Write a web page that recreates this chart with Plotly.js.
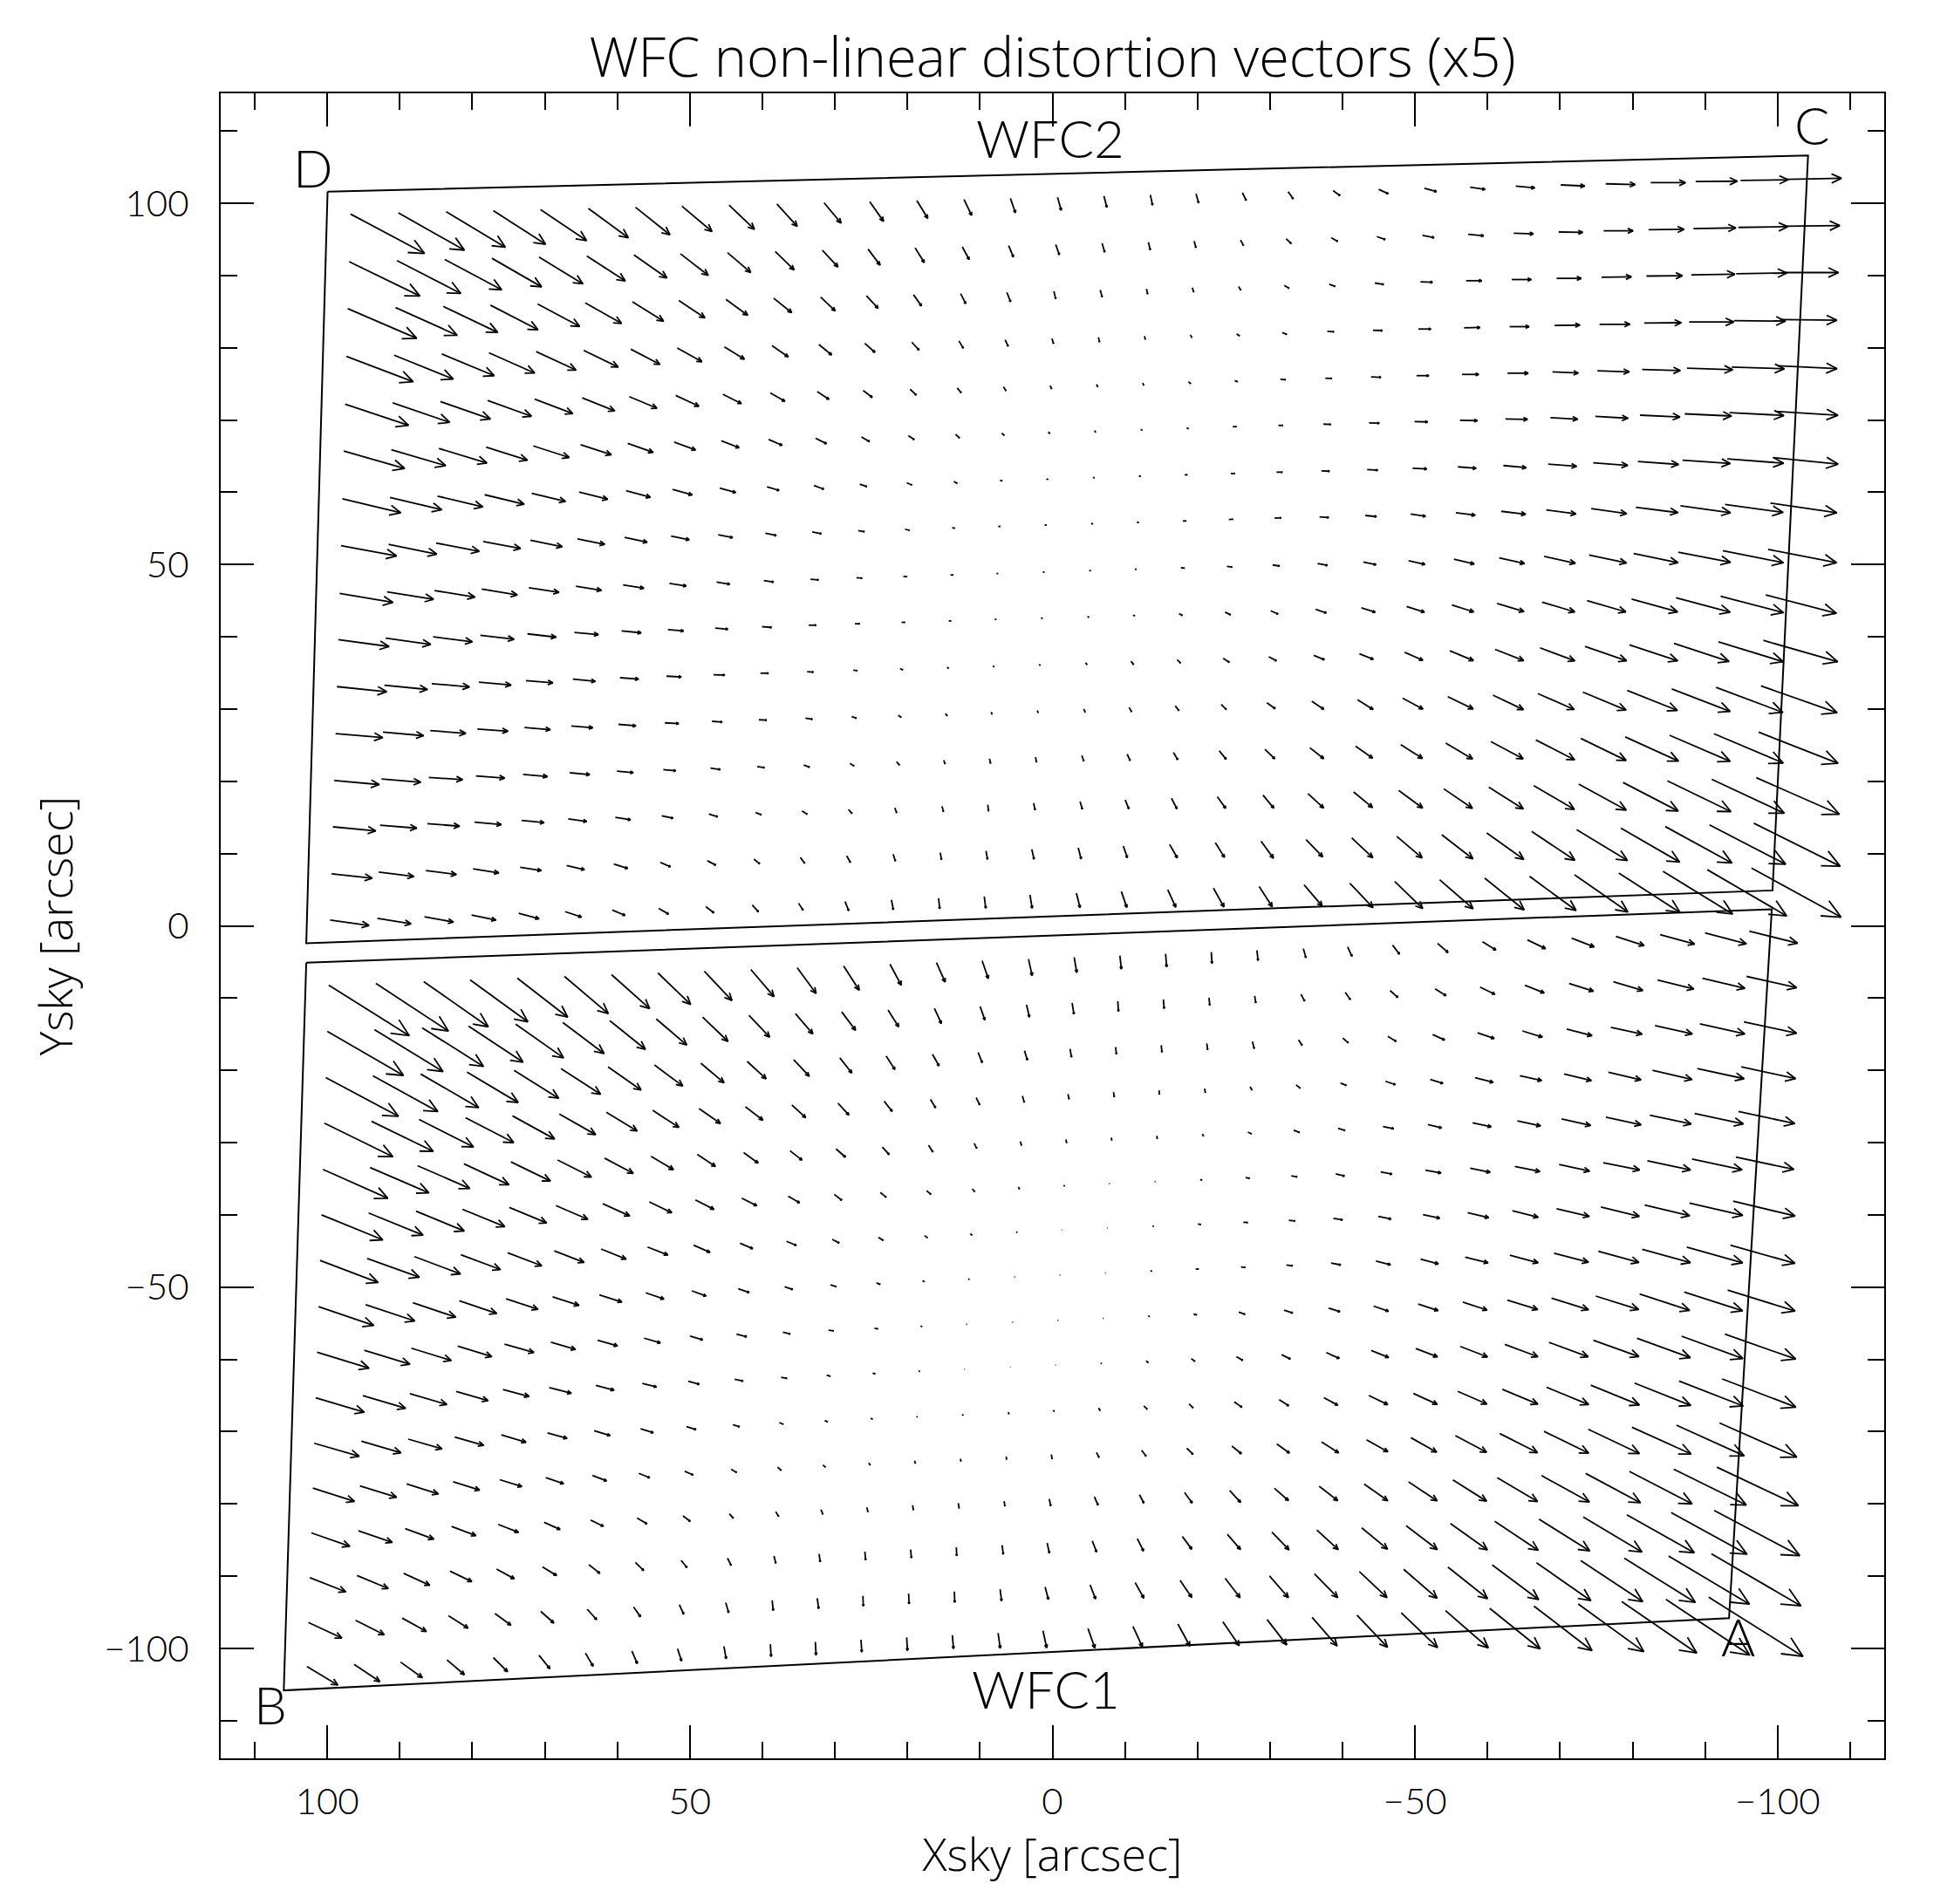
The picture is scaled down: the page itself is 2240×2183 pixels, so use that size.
<!DOCTYPE html>
<html><head><meta charset="utf-8">
<script src="https://cdn.plot.ly/plotly-3.0.1.min.js"></script>
<style>body{margin:0;background:#fff}</style>
</head><body><div id="plot"></div>
<script>
// ---------------- DATA ----------------
const TITLE = 'WFC non-linear distortion vectors (x5)';
const X_TITLE = 'Xsky [arcsec]';
const Y_TITLE = 'Ysky [arcsec]';
const SCALE = 5;            // vectors magnified x5
const X_TICKS = [100, 50, 0, -50, -100];
const Y_TICKS = [100, 50, 0, -50, -100];

// chip outlines (Xsky, Ysky)
const WFC2_OUTLINE_X = [99.96, -104.2, -99.3, 102.9, 99.96];
const WFC2_OUTLINE_Y = [101.6, 106.6, 4.9, -2.4, 101.6];
const WFC1_OUTLINE_X = [102.9, -99.2, -93.3, 106.0, 102.9];
const WFC1_OUTLINE_Y = [-5.1, 2.3, -95.8, -105.8, -5.1];

// labels
const LABEL_TEXT = ['D', 'C', 'A', 'B', 'WFC2', 'WFC1'];
const LABEL_X = [102.0, -104.8, -94.6, 107.9, 0.3, 0.9];
const LABEL_Y = [105.0, 110.9, -98.3, -107.7, 109.1, -105.5];

// grid of vector tails: 16 rows x 32 columns per chip (edges of the grid)
const WFC2_TOP_X = [96.8,90.2,83.6,77.1,70.6,64.0,57.5,51.1,44.6,38.0,31.5,25.2,18.7,12.2,5.8,-0.7,-7.1,-13.5,-19.8,-26.2,-32.5,-38.7,-45.0,-51.3,-57.6,-63.9,-70.1,-76.3,-82.5,-88.7,-94.9,-101.3];
const WFC2_BOT_X = [99.6,93.1,86.6,80.1,73.6,67.2,60.7,54.3,47.8,41.4,35.0,28.6,22.2,15.7,9.4,3.1,-3.3,-9.5,-15.9,-22.2,-28.5,-34.7,-41.0,-47.2,-53.4,-59.6,-65.8,-72.0,-78.1,-84.2,-90.3,-96.4];
const WFC2_LEFT_Y = [98.5,91.9,85.4,78.8,72.2,65.7,59.1,52.6,46.0,39.6,33.1,26.6,20.1,13.7,7.2,0.8];
const WFC2_RIGHT_Y = [103.3,96.8,90.4,83.9,77.5,71.2,64.8,58.5,52.1,45.8,39.5,33.2,26.8,20.5,14.2,8.0];

const WFC1_TOP_X = [99.8,93.3,86.7,80.3,73.8,67.3,60.8,54.4,48.0,41.6,35.2,28.8,22.4,16.0,9.7,3.3,-3.0,-9.3,-15.6,-21.9,-28.2,-34.6,-40.7,-46.9,-53.1,-59.3,-65.5,-71.6,-77.7,-83.8,-90.0,-96.1];
const WFC1_BOT_X = [102.8,96.3,89.9,83.5,77.1,70.8,64.4,58.0,51.7,45.3,38.9,32.7,26.4,20.1,13.8,7.5,1.3,-4.9,-11.1,-17.3,-23.5,-29.6,-35.8,-42.0,-48.1,-54.2,-60.3,-66.4,-72.5,-78.5,-84.6,-90.5];
const WFC1_LEFT_Y = [-8.2,-14.6,-21.0,-27.3,-33.7,-40.0,-46.3,-52.7,-59.0,-65.3,-71.6,-77.8,-84.0,-90.2,-96.4,-102.5];
const WFC1_RIGHT_Y = [-0.75,-7.0,-13.3,-19.5,-25.7,-32.0,-38.1,-44.2,-50.4,-56.5,-62.7,-68.8,-74.9,-80.9,-86.9,-92.9];

// non-linear distortion (arcsec), dX and dY, row by row (top row first)
const WFC2_DX = [
[-2.04,-1.82,-1.63,-1.44,-1.27,-1.10,-0.95,-0.83,-0.70,-0.56,-0.47,-0.38,-0.30,-0.21,-0.14,-0.10,-0.08,-0.06,-0.07,-0.10,-0.14,-0.19,-0.26,-0.33,-0.41,-0.52,-0.66,-0.81,-0.96,-1.15,-1.31,-1.50],
[-1.95,-1.76,-1.57,-1.37,-1.21,-1.06,-0.91,-0.77,-0.64,-0.52,-0.43,-0.33,-0.25,-0.19,-0.13,-0.10,-0.07,-0.05,-0.05,-0.08,-0.14,-0.18,-0.23,-0.32,-0.43,-0.54,-0.66,-0.81,-0.98,-1.17,-1.36,-1.52],
[-1.90,-1.70,-1.50,-1.31,-1.16,-1.00,-0.86,-0.72,-0.60,-0.50,-0.40,-0.32,-0.22,-0.14,-0.10,-0.05,-0.05,-0.03,-0.04,-0.06,-0.13,-0.16,-0.24,-0.33,-0.43,-0.54,-0.68,-0.82,-0.99,-1.20,-1.40,-1.55],
[-1.84,-1.63,-1.44,-1.26,-1.10,-0.95,-0.80,-0.68,-0.55,-0.45,-0.35,-0.28,-0.20,-0.12,-0.08,-0.04,-0.03,-0.02,-0.04,-0.08,-0.12,-0.18,-0.26,-0.34,-0.44,-0.54,-0.70,-0.84,-1.02,-1.23,-1.42,-1.57],
[-1.75,-1.57,-1.38,-1.21,-1.05,-0.90,-0.76,-0.64,-0.51,-0.40,-0.32,-0.25,-0.17,-0.11,-0.07,-0.04,-0.03,-0.03,-0.06,-0.08,-0.14,-0.18,-0.27,-0.34,-0.46,-0.57,-0.71,-0.88,-1.05,-1.26,-1.45,-1.64],
[-1.68,-1.50,-1.32,-1.14,-0.99,-0.85,-0.70,-0.59,-0.49,-0.37,-0.30,-0.22,-0.16,-0.11,-0.07,-0.04,-0.02,-0.04,-0.05,-0.10,-0.12,-0.20,-0.28,-0.36,-0.48,-0.61,-0.75,-0.90,-1.10,-1.29,-1.50,-1.73],
[-1.61,-1.43,-1.25,-1.09,-0.93,-0.79,-0.67,-0.54,-0.44,-0.33,-0.27,-0.19,-0.14,-0.09,-0.06,-0.04,-0.04,-0.05,-0.07,-0.11,-0.16,-0.22,-0.29,-0.39,-0.50,-0.63,-0.78,-0.95,-1.12,-1.31,-1.55,-1.80],
[-1.53,-1.33,-1.19,-1.03,-0.88,-0.75,-0.62,-0.50,-0.40,-0.30,-0.25,-0.17,-0.12,-0.07,-0.05,-0.05,-0.05,-0.05,-0.09,-0.11,-0.18,-0.25,-0.31,-0.41,-0.53,-0.67,-0.82,-0.98,-1.16,-1.38,-1.60,-1.83],
[-1.47,-1.28,-1.11,-0.98,-0.83,-0.70,-0.57,-0.46,-0.36,-0.27,-0.22,-0.15,-0.10,-0.07,-0.04,-0.04,-0.04,-0.04,-0.10,-0.14,-0.19,-0.27,-0.35,-0.45,-0.56,-0.70,-0.86,-1.03,-1.22,-1.44,-1.67,-1.89],
[-1.40,-1.24,-1.08,-0.93,-0.79,-0.66,-0.54,-0.43,-0.35,-0.26,-0.20,-0.13,-0.09,-0.06,-0.04,-0.04,-0.04,-0.05,-0.09,-0.15,-0.20,-0.29,-0.38,-0.49,-0.60,-0.74,-0.90,-1.07,-1.27,-1.49,-1.73,-1.95],
[-1.37,-1.19,-1.04,-0.89,-0.74,-0.62,-0.51,-0.41,-0.31,-0.22,-0.17,-0.11,-0.08,-0.04,-0.03,-0.03,-0.04,-0.07,-0.09,-0.17,-0.21,-0.29,-0.38,-0.50,-0.65,-0.79,-0.96,-1.15,-1.33,-1.52,-1.79,-2.05],
[-1.30,-1.12,-0.98,-0.84,-0.71,-0.59,-0.48,-0.38,-0.28,-0.21,-0.19,-0.13,-0.08,-0.05,-0.02,-0.02,-0.04,-0.07,-0.10,-0.14,-0.23,-0.33,-0.43,-0.56,-0.70,-0.84,-1.00,-1.19,-1.38,-1.61,-1.84,-2.10],
[-1.24,-1.08,-0.93,-0.79,-0.67,-0.55,-0.45,-0.34,-0.27,-0.20,-0.16,-0.11,-0.08,-0.04,-0.03,-0.03,-0.05,-0.08,-0.12,-0.19,-0.27,-0.38,-0.47,-0.60,-0.74,-0.89,-1.07,-1.25,-1.47,-1.67,-1.91,-2.19],
[-1.18,-1.01,-0.89,-0.74,-0.62,-0.51,-0.42,-0.31,-0.24,-0.16,-0.14,-0.10,-0.05,-0.04,-0.02,-0.04,-0.06,-0.10,-0.15,-0.23,-0.30,-0.43,-0.52,-0.66,-0.79,-0.95,-1.12,-1.31,-1.52,-1.75,-2.00,-2.29],
[-1.12,-0.97,-0.84,-0.71,-0.58,-0.49,-0.38,-0.28,-0.23,-0.16,-0.12,-0.10,-0.06,-0.03,-0.04,-0.06,-0.08,-0.11,-0.21,-0.25,-0.34,-0.46,-0.58,-0.70,-0.86,-1.02,-1.19,-1.40,-1.62,-1.84,-2.10,-2.38],
[-1.07,-0.93,-0.80,-0.67,-0.56,-0.45,-0.35,-0.27,-0.22,-0.17,-0.12,-0.10,-0.05,-0.03,-0.04,-0.06,-0.10,-0.15,-0.22,-0.29,-0.36,-0.50,-0.64,-0.77,-0.92,-1.09,-1.28,-1.47,-1.69,-1.92,-2.19,-2.47]
];
const WFC2_DY = [
[-1.09,-1.03,-0.98,-0.93,-0.86,-0.81,-0.76,-0.70,-0.67,-0.62,-0.56,-0.54,-0.49,-0.44,-0.40,-0.36,-0.31,-0.28,-0.25,-0.21,-0.20,-0.14,-0.12,-0.09,-0.06,-0.05,-0.03,-0.02,0,0.01,0.02,0.03],
[-0.95,-0.91,-0.84,-0.79,-0.74,-0.69,-0.64,-0.60,-0.55,-0.51,-0.46,-0.44,-0.40,-0.35,-0.31,-0.28,-0.24,-0.21,-0.18,-0.15,-0.13,-0.10,-0.08,-0.06,-0.04,-0.02,-0.01,0,0.01,0.02,0.02,0.02],
[-0.82,-0.77,-0.72,-0.68,-0.62,-0.57,-0.54,-0.48,-0.44,-0.40,-0.38,-0.34,-0.31,-0.28,-0.26,-0.21,-0.19,-0.14,-0.12,-0.10,-0.08,-0.06,-0.04,-0.01,0,0,0,0.01,0.01,0.02,0.02,0],
[-0.70,-0.66,-0.60,-0.56,-0.51,-0.46,-0.42,-0.38,-0.34,-0.31,-0.29,-0.25,-0.22,-0.20,-0.18,-0.14,-0.13,-0.09,-0.07,-0.06,-0.05,-0.01,-0.01,0,0.01,0,0.01,0,0.01,0,-0.01,-0.02],
[-0.59,-0.54,-0.48,-0.44,-0.40,-0.36,-0.32,-0.30,-0.26,-0.23,-0.21,-0.19,-0.16,-0.13,-0.11,-0.09,-0.07,-0.06,-0.05,-0.03,-0.01,-0.01,-0.01,0,0,0,-0.03,-0.03,-0.03,-0.04,-0.05,-0.08],
[-0.48,-0.44,-0.40,-0.36,-0.32,-0.28,-0.25,-0.22,-0.19,-0.16,-0.15,-0.13,-0.11,-0.10,-0.06,-0.05,-0.05,-0.03,-0.02,0,0,-0.01,-0.01,-0.01,-0.01,-0.01,-0.04,-0.05,-0.05,-0.06,-0.08,-0.11],
[-0.39,-0.34,-0.30,-0.26,-0.22,-0.20,-0.18,-0.15,-0.12,-0.10,-0.10,-0.07,-0.06,-0.05,-0.02,-0.02,-0.01,0,0,0,0,-0.01,-0.02,-0.02,-0.04,-0.06,-0.06,-0.07,-0.08,-0.09,-0.12,-0.18],
[-0.28,-0.27,-0.23,-0.19,-0.18,-0.15,-0.13,-0.10,-0.08,-0.06,-0.05,-0.03,-0.03,-0.01,0,0,0,0,0,0.01,0.01,-0.02,-0.03,-0.06,-0.07,-0.08,-0.11,-0.14,-0.15,-0.19,-0.22,-0.27],
[-0.25,-0.20,-0.18,-0.16,-0.13,-0.11,-0.09,-0.07,-0.06,-0.04,-0.02,-0.01,-0.01,0,0,0,0,0,-0.01,-0.02,-0.03,-0.05,-0.07,-0.10,-0.13,-0.16,-0.19,-0.22,-0.25,-0.28,-0.33,-0.37],
[-0.19,-0.17,-0.14,-0.11,-0.09,-0.06,-0.05,-0.04,-0.03,-0.02,0,0,0,0,0,-0.01,-0.02,-0.02,-0.05,-0.07,-0.09,-0.10,-0.12,-0.16,-0.19,-0.22,-0.27,-0.31,-0.35,-0.40,-0.45,-0.51],
[-0.14,-0.12,-0.09,-0.08,-0.06,-0.06,-0.04,-0.02,-0.01,0,-0.01,-0.01,-0.03,-0.03,-0.03,-0.03,-0.05,-0.09,-0.09,-0.11,-0.11,-0.12,-0.15,-0.22,-0.27,-0.31,-0.36,-0.40,-0.44,-0.50,-0.55,-0.59],
[-0.11,-0.10,-0.08,-0.06,-0.06,-0.05,-0.04,-0.02,-0.02,-0.01,-0.03,-0.04,-0.06,-0.06,-0.06,-0.06,-0.09,-0.12,-0.13,-0.14,-0.16,-0.22,-0.27,-0.30,-0.34,-0.40,-0.44,-0.50,-0.55,-0.62,-0.69,-0.74],
[-0.11,-0.09,-0.06,-0.06,-0.06,-0.05,-0.04,-0.03,-0.04,-0.03,-0.06,-0.07,-0.09,-0.10,-0.13,-0.14,-0.15,-0.18,-0.20,-0.23,-0.26,-0.30,-0.33,-0.38,-0.44,-0.48,-0.55,-0.61,-0.67,-0.72,-0.81,-0.86],
[-0.11,-0.08,-0.07,-0.07,-0.06,-0.07,-0.07,-0.07,-0.07,-0.06,-0.09,-0.11,-0.14,-0.15,-0.18,-0.19,-0.21,-0.25,-0.29,-0.32,-0.36,-0.40,-0.43,-0.49,-0.54,-0.60,-0.66,-0.72,-0.79,-0.85,-0.94,-1.01],
[-0.12,-0.12,-0.11,-0.11,-0.09,-0.11,-0.12,-0.12,-0.12,-0.13,-0.16,-0.18,-0.19,-0.19,-0.23,-0.27,-0.31,-0.32,-0.37,-0.40,-0.47,-0.48,-0.55,-0.60,-0.67,-0.73,-0.80,-0.85,-0.94,-1.01,-1.09,-1.19],
[-0.15,-0.15,-0.15,-0.14,-0.15,-0.15,-0.15,-0.16,-0.17,-0.19,-0.19,-0.25,-0.27,-0.29,-0.32,-0.37,-0.40,-0.44,-0.48,-0.52,-0.56,-0.59,-0.68,-0.75,-0.80,-0.88,-0.94,-1.03,-1.09,-1.18,-1.28,-1.36]
];
const WFC1_DX = [
[-2.22,-2.00,-1.78,-1.59,-1.39,-1.21,-1.05,-0.90,-0.76,-0.64,-0.52,-0.43,-0.31,-0.24,-0.17,-0.10,-0.07,-0.04,-0.03,-0.02,-0.03,-0.07,-0.12,-0.19,-0.29,-0.37,-0.50,-0.62,-0.78,-0.95,-1.14,-1.33],
[-2.10,-1.89,-1.69,-1.50,-1.32,-1.14,-0.98,-0.84,-0.70,-0.57,-0.48,-0.38,-0.29,-0.19,-0.13,-0.08,-0.05,-0.02,-0.02,-0.02,-0.03,-0.10,-0.14,-0.21,-0.30,-0.41,-0.53,-0.67,-0.81,-1.00,-1.17,-1.38],
[-2.00,-1.79,-1.60,-1.41,-1.23,-1.09,-0.91,-0.78,-0.64,-0.52,-0.43,-0.33,-0.24,-0.18,-0.11,-0.08,-0.04,-0.02,-0.02,-0.02,-0.05,-0.10,-0.15,-0.23,-0.33,-0.46,-0.55,-0.70,-0.86,-1.03,-1.24,-1.45],
[-1.89,-1.70,-1.50,-1.33,-1.16,-1.00,-0.85,-0.72,-0.59,-0.48,-0.38,-0.30,-0.22,-0.14,-0.10,-0.05,-0.03,-0.02,-0.01,-0.02,-0.05,-0.11,-0.16,-0.27,-0.35,-0.50,-0.60,-0.75,-0.90,-1.09,-1.29,-1.50],
[-1.79,-1.62,-1.44,-1.24,-1.09,-0.93,-0.79,-0.62,-0.50,-0.40,-0.33,-0.26,-0.19,-0.12,-0.07,-0.03,-0.02,-0.01,-0.01,-0.03,-0.10,-0.16,-0.19,-0.29,-0.38,-0.51,-0.64,-0.80,-0.97,-1.14,-1.34,-1.55],
[-1.69,-1.50,-1.33,-1.17,-1.03,-0.88,-0.74,-0.62,-0.51,-0.41,-0.31,-0.21,-0.16,-0.12,-0.07,-0.03,-0.02,-0.01,-0.02,-0.05,-0.11,-0.16,-0.24,-0.31,-0.43,-0.55,-0.69,-0.84,-1.00,-1.19,-1.38,-1.60],
[-1.60,-1.44,-1.27,-1.09,-0.94,-0.82,-0.69,-0.56,-0.45,-0.35,-0.27,-0.19,-0.13,-0.08,-0.05,-0.02,-0.01,-0.01,-0.03,-0.08,-0.12,-0.17,-0.25,-0.35,-0.46,-0.58,-0.71,-0.90,-1.06,-1.24,-1.47,-1.71],
[-1.52,-1.35,-1.18,-1.03,-0.88,-0.73,-0.62,-0.50,-0.39,-0.30,-0.22,-0.16,-0.10,-0.05,-0.03,-0.02,-0.02,-0.02,-0.04,-0.08,-0.12,-0.17,-0.27,-0.40,-0.49,-0.63,-0.78,-0.95,-1.12,-1.33,-1.54,-1.78],
[-1.43,-1.26,-1.10,-0.94,-0.81,-0.68,-0.55,-0.45,-0.35,-0.28,-0.20,-0.14,-0.09,-0.04,-0.02,-0.02,-0.02,-0.02,-0.04,-0.09,-0.17,-0.24,-0.31,-0.41,-0.55,-0.67,-0.84,-1.02,-1.18,-1.38,-1.61,-1.86],
[-1.34,-1.18,-1.02,-0.88,-0.72,-0.61,-0.50,-0.39,-0.30,-0.23,-0.16,-0.10,-0.07,-0.03,-0.01,-0.01,-0.01,-0.02,-0.06,-0.10,-0.17,-0.24,-0.36,-0.48,-0.60,-0.75,-0.91,-1.08,-1.26,-1.47,-1.69,-1.95],
[-1.24,-1.09,-0.93,-0.80,-0.68,-0.54,-0.44,-0.35,-0.26,-0.18,-0.11,-0.08,-0.05,-0.02,-0.02,-0.02,-0.02,-0.04,-0.09,-0.11,-0.21,-0.26,-0.38,-0.52,-0.66,-0.80,-0.98,-1.16,-1.34,-1.55,-1.77,-2.03],
[-1.15,-1.01,-0.87,-0.73,-0.61,-0.49,-0.39,-0.30,-0.23,-0.15,-0.10,-0.07,-0.04,-0.02,-0.02,-0.01,-0.02,-0.07,-0.12,-0.17,-0.26,-0.35,-0.47,-0.59,-0.71,-0.86,-1.04,-1.23,-1.41,-1.63,-1.87,-2.13],
[-1.06,-0.93,-0.79,-0.67,-0.56,-0.44,-0.35,-0.27,-0.20,-0.11,-0.08,-0.05,-0.03,-0.02,-0.02,-0.02,-0.04,-0.10,-0.12,-0.21,-0.30,-0.39,-0.51,-0.65,-0.79,-0.93,-1.11,-1.32,-1.51,-1.73,-2.00,-2.25],
[-0.99,-0.86,-0.72,-0.60,-0.49,-0.39,-0.30,-0.23,-0.16,-0.10,-0.05,-0.03,-0.02,-0.02,-0.01,-0.03,-0.06,-0.12,-0.17,-0.26,-0.36,-0.47,-0.59,-0.71,-0.86,-1.02,-1.20,-1.40,-1.62,-1.86,-2.09,-2.36],
[-0.92,-0.79,-0.67,-0.54,-0.44,-0.36,-0.26,-0.19,-0.12,-0.08,-0.03,-0.04,-0.01,-0.01,-0.01,-0.04,-0.09,-0.15,-0.24,-0.32,-0.41,-0.52,-0.64,-0.76,-0.92,-1.09,-1.28,-1.50,-1.71,-1.96,-2.23,-2.47],
[-0.85,-0.71,-0.60,-0.48,-0.39,-0.30,-0.21,-0.15,-0.11,-0.06,-0.02,-0.02,-0.02,-0.02,-0.03,-0.06,-0.10,-0.19,-0.26,-0.33,-0.45,-0.54,-0.69,-0.84,-1.00,-1.18,-1.39,-1.60,-1.81,-2.07,-2.31,-2.60]
];
const WFC1_DY = [
[-1.40,-1.32,-1.25,-1.16,-1.08,-1.03,-0.94,-0.87,-0.81,-0.75,-0.71,-0.67,-0.58,-0.54,-0.49,-0.46,-0.42,-0.37,-0.36,-0.31,-0.28,-0.25,-0.26,-0.25,-0.25,-0.23,-0.24,-0.24,-0.25,-0.26,-0.30,-0.33],
[-1.22,-1.16,-1.07,-1.00,-0.93,-0.86,-0.79,-0.72,-0.67,-0.60,-0.56,-0.51,-0.46,-0.42,-0.37,-0.34,-0.31,-0.28,-0.25,-0.21,-0.19,-0.19,-0.20,-0.19,-0.19,-0.20,-0.21,-0.21,-0.24,-0.25,-0.28,-0.31],
[-1.07,-0.99,-0.93,-0.84,-0.77,-0.71,-0.64,-0.58,-0.54,-0.48,-0.46,-0.42,-0.37,-0.32,-0.28,-0.26,-0.23,-0.19,-0.19,-0.17,-0.19,-0.15,-0.13,-0.14,-0.15,-0.16,-0.17,-0.18,-0.19,-0.23,-0.28,-0.31],
[-0.93,-0.83,-0.76,-0.69,-0.64,-0.57,-0.52,-0.47,-0.41,-0.37,-0.35,-0.33,-0.28,-0.23,-0.20,-0.18,-0.14,-0.13,-0.11,-0.11,-0.09,-0.09,-0.06,-0.09,-0.11,-0.13,-0.13,-0.18,-0.21,-0.25,-0.28,-0.33],
[-0.80,-0.70,-0.63,-0.58,-0.53,-0.47,-0.42,-0.37,-0.33,-0.29,-0.26,-0.23,-0.21,-0.19,-0.14,-0.11,-0.09,-0.07,-0.08,-0.06,-0.05,-0.06,-0.06,-0.06,-0.09,-0.11,-0.14,-0.18,-0.21,-0.24,-0.29,-0.33],
[-0.69,-0.61,-0.55,-0.48,-0.43,-0.38,-0.34,-0.30,-0.26,-0.21,-0.18,-0.16,-0.13,-0.10,-0.08,-0.06,-0.03,-0.02,-0.01,-0.02,-0.02,-0.03,-0.06,-0.06,-0.08,-0.11,-0.14,-0.18,-0.20,-0.25,-0.30,-0.34],
[-0.61,-0.52,-0.48,-0.41,-0.36,-0.32,-0.28,-0.22,-0.20,-0.15,-0.11,-0.10,-0.08,-0.06,-0.04,-0.02,-0.01,-0.01,-0.01,-0.01,-0.01,-0.02,-0.04,-0.07,-0.10,-0.14,-0.18,-0.21,-0.26,-0.30,-0.34,-0.41],
[-0.52,-0.45,-0.40,-0.35,-0.29,-0.24,-0.20,-0.17,-0.14,-0.10,-0.07,-0.05,-0.04,-0.02,-0.01,-0.01,0,0,0,0,-0.01,-0.02,-0.05,-0.10,-0.13,-0.16,-0.21,-0.25,-0.31,-0.37,-0.43,-0.50],
[-0.44,-0.39,-0.34,-0.29,-0.23,-0.20,-0.16,-0.13,-0.10,-0.07,-0.05,-0.02,-0.02,-0.01,-0.01,-0.01,-0.01,-0.01,-0.01,-0.02,-0.06,-0.08,-0.10,-0.14,-0.18,-0.22,-0.26,-0.32,-0.37,-0.45,-0.52,-0.58],
[-0.40,-0.35,-0.30,-0.25,-0.19,-0.16,-0.13,-0.10,-0.08,-0.05,-0.03,-0.03,-0.02,-0.01,-0.01,-0.01,-0.01,-0.02,-0.05,-0.07,-0.10,-0.12,-0.16,-0.19,-0.23,-0.29,-0.34,-0.40,-0.45,-0.54,-0.62,-0.69],
[-0.36,-0.32,-0.27,-0.23,-0.20,-0.15,-0.13,-0.11,-0.08,-0.06,-0.05,-0.04,-0.02,-0.02,-0.03,-0.05,-0.04,-0.07,-0.09,-0.11,-0.15,-0.17,-0.21,-0.25,-0.30,-0.35,-0.41,-0.48,-0.55,-0.62,-0.69,-0.78],
[-0.37,-0.31,-0.28,-0.23,-0.19,-0.17,-0.15,-0.12,-0.10,-0.09,-0.09,-0.06,-0.06,-0.07,-0.07,-0.08,-0.12,-0.14,-0.16,-0.17,-0.21,-0.25,-0.30,-0.33,-0.40,-0.46,-0.53,-0.60,-0.67,-0.74,-0.85,-0.94],
[-0.37,-0.32,-0.29,-0.25,-0.22,-0.20,-0.17,-0.16,-0.15,-0.12,-0.13,-0.13,-0.12,-0.13,-0.14,-0.14,-0.19,-0.23,-0.23,-0.29,-0.33,-0.34,-0.40,-0.46,-0.52,-0.59,-0.66,-0.73,-0.81,-0.90,-0.99,-1.07],
[-0.39,-0.36,-0.33,-0.29,-0.27,-0.24,-0.24,-0.22,-0.20,-0.20,-0.20,-0.22,-0.23,-0.23,-0.23,-0.25,-0.28,-0.31,-0.34,-0.35,-0.42,-0.49,-0.54,-0.59,-0.66,-0.73,-0.80,-0.88,-0.97,-1.05,-1.15,-1.25],
[-0.43,-0.40,-0.37,-0.34,-0.32,-0.32,-0.29,-0.27,-0.26,-0.28,-0.28,-0.29,-0.28,-0.28,-0.30,-0.32,-0.34,-0.39,-0.43,-0.47,-0.54,-0.60,-0.66,-0.72,-0.80,-0.87,-0.96,-1.05,-1.14,-1.22,-1.33,-1.44],
[-0.51,-0.48,-0.43,-0.41,-0.39,-0.37,-0.36,-0.35,-0.34,-0.34,-0.34,-0.36,-0.34,-0.36,-0.37,-0.42,-0.47,-0.54,-0.57,-0.61,-0.66,-0.70,-0.79,-0.89,-0.96,-1.03,-1.12,-1.23,-1.32,-1.42,-1.54,-1.64]
];

// ---------------- DRAWING ----------------
const FONT = 'Lato, "DejaVu Sans", sans-serif';
const WIDE_FONT = '"Open Sans", Lato, sans-serif';
const X_RANGE = [114.7, -114.7];
const Y_RANGE = [-115.2, 115.2];
const W = 2240, H = 2183;
const M = {l: 253, r: 80, t: 107, b: 167};
const PXX = (W - M.l - M.r) / Math.abs(X_RANGE[1] - X_RANGE[0]);
const PXY = (H - M.t - M.b) / Math.abs(Y_RANGE[1] - Y_RANGE[0]);
const HEAD_FRAC = 0.2, HEAD_ANG = 25 * Math.PI / 180;

function chipArrows(topX, botX, leftY, rightY, DX, DY) {
  const xs = [], ys = [];
  const nR = leftY.length, nC = topX.length;
  for (let i = 0; i < nR; i++) {
    for (let j = 0; j < nC; j++) {
      if (!DX[i] || DX[i][j] === undefined || DY[i][j] === undefined) continue;
      const x0 = topX[j] + (botX[j] - topX[j]) * i / (nR - 1);
      const y0 = leftY[i] + (rightY[i] - leftY[i]) * j / (nC - 1);
      const dx = SCALE * DX[i][j], dy = SCALE * DY[i][j];
      const x1 = x0 + dx, y1 = y0 + dy;
      xs.push(x0, x1, null); ys.push(y0, y1, null);
      const u = -dx * PXX, v = dy * PXY;   // screen components (x axis reversed)
      const L = Math.hypot(u, v);
      if (L < 1) continue;
      const h = HEAD_FRAC * L, a = Math.atan2(v, u);
      const a1 = a + Math.PI - HEAD_ANG, a2 = a + Math.PI + HEAD_ANG;
      xs.push(x1 - h * Math.cos(a1) / PXX, x1, x1 - h * Math.cos(a2) / PXX, null);
      ys.push(y1 + h * Math.sin(a1) / PXY, y1, y1 + h * Math.sin(a2) / PXY, null);
    }
  }
  return {xs, ys};
}

const a2 = chipArrows(WFC2_TOP_X, WFC2_BOT_X, WFC2_LEFT_Y, WFC2_RIGHT_Y, WFC2_DX, WFC2_DY);
const a1 = chipArrows(WFC1_TOP_X, WFC1_BOT_X, WFC1_LEFT_Y, WFC1_RIGHT_Y, WFC1_DX, WFC1_DY);

const traces = [
  {type: 'scatter', mode: 'lines', name: 'WFC2 outline', x: WFC2_OUTLINE_X, y: WFC2_OUTLINE_Y,
   line: {color: '#000', width: 2}, hoverinfo: 'skip'},
  {type: 'scatter', mode: 'lines', name: 'WFC1 outline', x: WFC1_OUTLINE_X, y: WFC1_OUTLINE_Y,
   line: {color: '#000', width: 2}, hoverinfo: 'skip'},
  {type: 'scatter', mode: 'lines', name: 'WFC2 vectors', x: a2.xs, y: a2.ys, connectgaps: false,
   line: {color: '#000', width: 1.8}, hoverinfo: 'skip'},
  {type: 'scatter', mode: 'lines', name: 'WFC1 vectors', x: a1.xs, y: a1.ys, connectgaps: false,
   line: {color: '#000', width: 1.8}, hoverinfo: 'skip'}
];

const annotations = LABEL_TEXT.map((t, k) => ({
  x: LABEL_X[k], y: LABEL_Y[k], xref: 'x', yref: 'y', text: t, showarrow: false,
  xanchor: 'center', yanchor: 'middle',
  font: {family: FONT, size: 60, color: '#000', weight: 300}
}));

const axisCommon = {
  showgrid: false, zeroline: false, showline: true, linecolor: '#000', linewidth: 2,
  mirror: 'allticks', ticks: 'inside', ticklen: 38, tickwidth: 2, tickcolor: '#000',
  tickfont: {family: FONT, size: 42, color: '#000', weight: 300},
  minor: {dtick: 10, ticks: 'inside', ticklen: 19, tickwidth: 2, tickcolor: '#000', showgrid: false},
  automargin: false, fixedrange: true
};

const layout = {
  width: W, height: H, margin: M,
  paper_bgcolor: '#fff', plot_bgcolor: '#fff', showlegend: false,
  font: {family: FONT, color: '#000', weight: 300},
  title: {text: TITLE, x: 0.5, xref: 'paper', xanchor: 'center', y: 1 - 66 / H, yref: 'container', yanchor: 'middle',
          font: {family: WIDE_FONT, size: 63, color: '#000', weight: 300}},
  xaxis: Object.assign({}, axisCommon, {
    range: X_RANGE, tickmode: 'array', tickvals: X_TICKS, ticklabelstandoff: 12,
    title: {text: X_TITLE, standoff: 16, font: {family: WIDE_FONT, size: 52, color: '#000', weight: 300}}
  }),
  yaxis: Object.assign({}, axisCommon, {
    range: Y_RANGE, tickmode: 'array', tickvals: Y_TICKS, ticklabelstandoff: 26,
    title: {text: Y_TITLE, standoff: 19, font: {family: WIDE_FONT, size: 52, color: '#000', weight: 300}}
  }),
  annotations: annotations
};

Plotly.newPlot('plot', traces, layout, {staticPlot: true, displayModeBar: false});
</script></body></html>
